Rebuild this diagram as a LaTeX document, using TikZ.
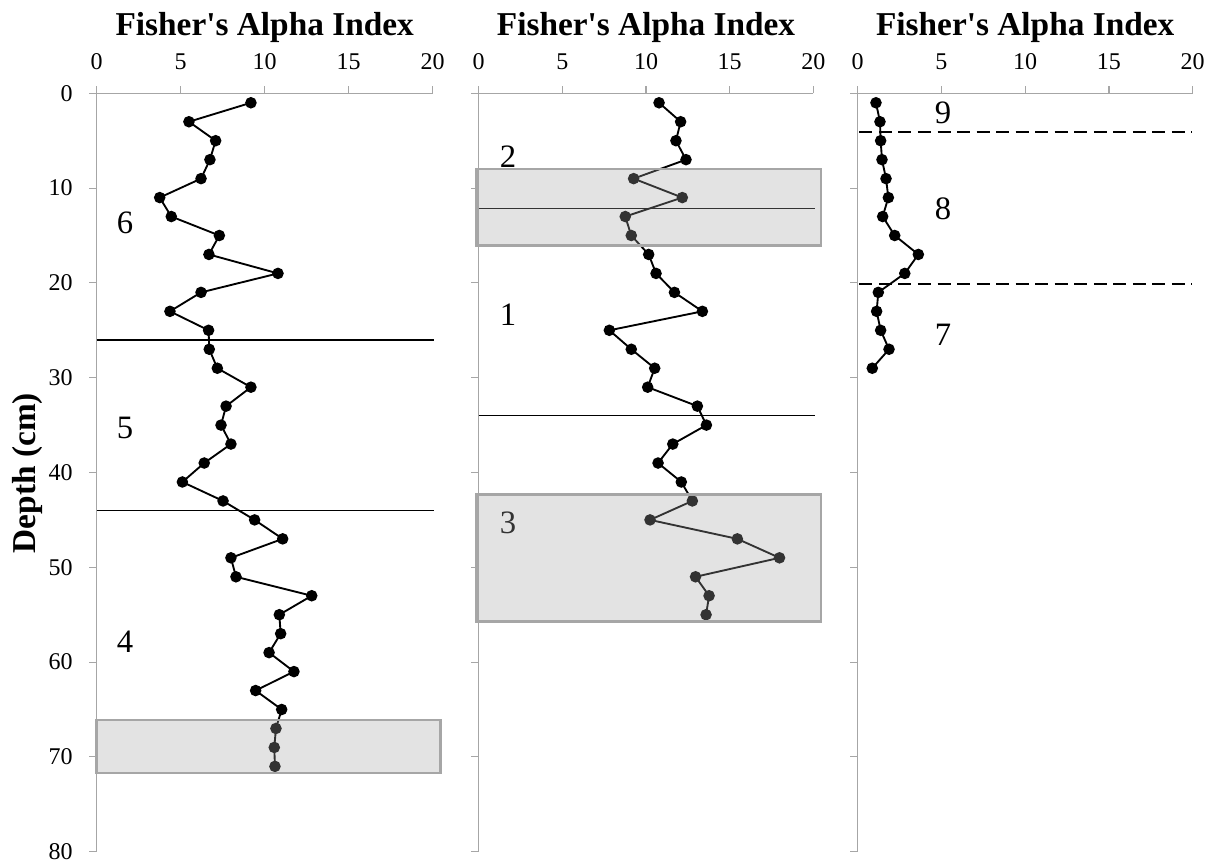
\documentclass[tikz,border=0pt]{standalone}
\usepackage{fontspec}
\setmainfont{Liberation Serif}
\definecolor{axisgray}{HTML}{A6A6A6}
\definecolor{boxedge}{HTML}{A6A6A6}
\definecolor{boxfill}{HTML}{A5A5A5}
\newcommand\panelaxes[2]{%
  \draw[axis] (0,0) -- (0,80);
  \foreach \d in {0,10,...,80} \draw[axis] (0,\d) -- ++(-5.6pt,0pt);
  \draw[axis] ([xshift=-5.6pt]0,0) -- (20,0);
  \foreach \v in {0,5,...,20} {
    \draw[axis] (\v,0) -- ++(0pt,5.3pt);
    \node[ticklab, anchor=base] (#1x\v) at ([yshift=17.5pt]\v,0) {\v};
  }
  \node[title] (#1title) at ([yshift=43.7pt]10,0) {#2};
}
\begin{document}
\begin{tikzpicture}[x=0.75pt,y=-0.75pt,
  axis/.style={draw=axisgray,line width=0.8pt},
  series/.style={line width=1.4pt, mark=*, mark size=3.6pt, mark options={solid}},
  zone/.style={line width=1.3pt},
  hbox/.style={draw=boxedge, line width=2pt, fill=boxfill, fill opacity=0.31},
  ticklab/.style={font=\fontsize{18}{21}\selectfont, inner sep=0pt},
  title/.style={font=\fontsize{25}{30}\selectfont\bfseries, inner sep=0pt, anchor=base},
  zlab/.style={font=\fontsize{24.5}{28}\selectfont, inner sep=0pt}]
\useasboundingbox (0,0) rectangle (1216,863);

\node[font=\fontsize{25}{30}\selectfont\bfseries, rotate=90, inner sep=0pt] (ylab) at (27.5,473) {Depth (cm)};

% ---------- Panel 1 ----------
\begin{scope}[shift={(96.7,93.3)}, x=12.6pt, y=-7.11pt]
  \panelaxes{pa}{Fisher\textquotesingle s Alpha Index}
  \foreach \d in {0,10,...,80}
    \node[ticklab, anchor=east] (pay\d) at ([xshift=-17.8pt]0,\d) {\d};
  \draw[zone] (0,26) -- (20.08,26);
  \draw[zone] (0,44) -- (20.08,44);
  \node[zlab] (z6) at (1.68,13.7) {6};
  \node[zlab] (z5) at (1.68,35.3) {5};
  \node[zlab] (z4) at (1.68,57.9) {4};
  \draw[series] plot coordinates {(9.18,1) (5.49,3) (7.08,5) (6.74,7) (6.21,9)
    (3.75,11) (4.44,13) (7.30,15) (6.68,17) (10.79,19) (6.21,21) (4.36,23)
    (6.66,25) (6.70,27) (7.18,29) (9.18,31) (7.70,33) (7.40,35) (7.99,37)
    (6.40,39) (5.10,41) (7.52,43) (9.40,45) (11.07,47) (7.99,49) (8.29,51)
    (12.80,53) (10.87,55) (10.95,57) (10.26,59) (11.74,61) (9.46,63)
    (11.01,65) (10.67,67) (10.57,69) (10.61,71)};
  \draw[hbox] (0,66.1) rectangle (20.48,71.7);
\end{scope}

% ---------- Panel 2 ----------
\begin{scope}[shift={(478.7,93.3)}, x=12.5475pt, y=-7.11pt]
  \panelaxes{pb}{Fisher\textquotesingle s Alpha Index}
  \draw[zone] (0,12.16) -- (20.1,12.16);
  \draw[zone] (0,34) -- (20.1,34);
  \node[zlab] (z2) at (1.75,6.7) {2};
  \node[zlab] (z1) at (1.75,23.4) {1};
  \node[zlab] (z3) at (1.75,45.3) {3};
  \draw[series] plot coordinates {(10.78,1) (12.07,3) (11.79,5) (12.39,7)
    (9.26,9) (12.17,11) (8.76,13) (9.12,15) (10.16,17) (10.60,19) (11.70,21)
    (13.37,23) (7.81,25) (9.12,27) (10.52,29) (10.10,31) (13.07,33)
    (13.61,35) (11.60,37) (10.72,39) (12.11,41) (12.77,43) (10.24,45)
    (15.46,47) (17.98,49) (12.96,51) (13.77,53) (13.59,55)};
  \draw[hbox] (-0.12,8.0) rectangle (20.46,16.06);
  \draw[hbox] (-0.12,42.3) rectangle (20.46,55.7);
\end{scope}

% ---------- Panel 3 ----------
\begin{scope}[shift={(857.7,93.3)}, x=12.5625pt, y=-7.11pt]
  \panelaxes{pc}{Fisher\textquotesingle s Alpha Index}
  \draw[zone, dash pattern=on 9.75pt off 4.9pt] (0.1,4.1) -- (19.95,4.1);
  \draw[zone, dash pattern=on 9.75pt off 4.9pt] (0.1,20.1) -- (19.95,20.1);
  \node[zlab] (z9) at (5.1,2.1) {9};
  \node[zlab] (z8) at (5.1,12.2) {8};
  \node[zlab] (z7) at (5.1,25.5) {7};
  \draw[series] plot coordinates {(1.09,1) (1.33,3) (1.37,5) (1.45,7)
    (1.69,9) (1.83,11) (1.49,13) (2.21,15) (3.62,17) (2.81,19) (1.23,21)
    (1.13,23) (1.37,25) (1.87,27) (0.87,29)};
\end{scope}
\end{tikzpicture}
\end{document}
